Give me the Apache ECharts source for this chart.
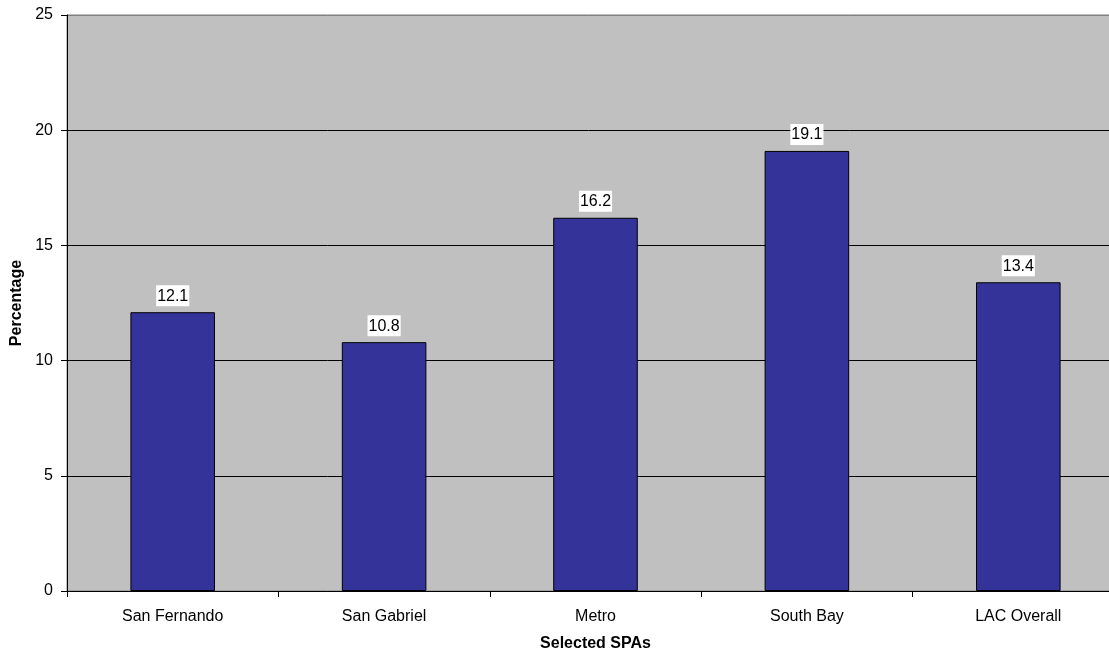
<!DOCTYPE html>
<html><head><meta charset="utf-8">
<script src="https://cdn.jsdelivr.net/npm/echarts@6/dist/echarts.min.js"></script>
<style>html,body{margin:0;padding:0;background:#fff}#c{width:1109px;height:653px}</style>
</head><body><div id="c"></div>
<script>
var categories = ['San Fernando', 'San Gabriel', 'Metro', 'South Bay', 'LAC Overall'];
var values = [12.1, 10.8, 16.2, 19.1, 13.4];
var yTicks = [0, 5, 10, 15, 20, 25];

var chart = echarts.init(document.getElementById('c'));
chart.setOption({
  animation: false,
  textStyle: { fontFamily: 'Liberation Sans, Arial, sans-serif' },
  grid: { left: 67, right: -15, top: 15, bottom: 62, containLabel: false, outerBoundsMode: 'none', show: true, backgroundColor: '#C0C0C0', borderColor: '#808080', borderWidth: 1 },
  xAxis: {
    type: 'category', data: categories,
    name: 'Selected SPAs', nameLocation: 'middle', nameGap: 45,
    nameTextStyle: { fontWeight: 'bold', fontSize: 16, color: '#000' },
    axisLine: { lineStyle: { color: '#000' } },
    axisTick: { show: true, alignWithLabel: false, length: 6, lineStyle: { color: '#000' } },
    axisLabel: { color: '#000', fontSize: 16, margin: 18 }
  },
  yAxis: {
    type: 'value', min: yTicks[0], max: yTicks[yTicks.length - 1], interval: 5,
    name: 'Percentage', nameLocation: 'middle', nameGap: 40,
    nameTextStyle: { fontWeight: 'bold', fontSize: 16, color: '#000' },
    axisLine: { show: true, lineStyle: { color: '#000' } },
    axisTick: { show: true, length: 6, lineStyle: { color: '#000' } },
    axisLabel: { color: '#000', fontSize: 16, margin: 14 },
    splitLine: { show: true, lineStyle: { color: ['#000', '#000', '#000', '#000', '#000', '#808080'], width: 1 } }
  },
  series: [{
    type: 'bar', data: values, barWidth: '40%',
    itemStyle: { color: '#333399', borderColor: '#000', borderWidth: 1 },
    label: { show: true, position: 'top', distance: 6, color: '#000', fontSize: 16, backgroundColor: '#fff', padding: [3, 1, 2, 1], formatter: function (p) { return p.value.toFixed(1); } }
  }]
});
</script></body></html>
